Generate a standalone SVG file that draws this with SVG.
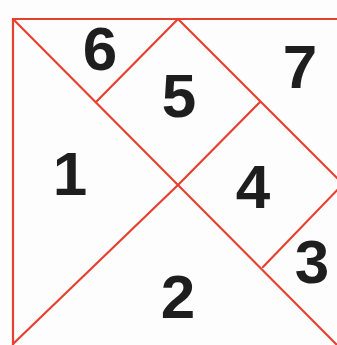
<svg xmlns="http://www.w3.org/2000/svg" width="337" height="345" viewBox="0 0 337 345">
<style>
.ln{stroke:#e8402e;stroke-width:2.2;fill:none;stroke-linecap:round}
.lb{font-family:"Liberation Sans",Arial,sans-serif;font-weight:bold;font-size:62px;fill:#1e1e1e;text-anchor:middle}
</style>
<rect width="337" height="345" fill="#fdfdfd"/>
<g id="connectors">
<line class="ln" x1="13" y1="19" x2="345" y2="19"/>
<line class="ln" x1="13" y1="19" x2="13" y2="345"/>
<line class="ln" x1="13" y1="19" x2="345" y2="353"/>
<line class="ln" x1="13" y1="344" x2="178" y2="185"/>
<line class="ln" x1="96" y1="102" x2="178" y2="19"/>
<line class="ln" x1="178" y1="19" x2="343" y2="184"/>
<line class="ln" x1="260" y1="102" x2="178" y2="185"/>
<line class="ln" x1="263" y1="267" x2="343" y2="184"/>
</g>
<g id="piece1"><text class="lb" x="70" y="195">1</text></g>
<g id="piece2"><text class="lb" x="178" y="318">2</text></g>
<g id="piece3"><text class="lb" x="312" y="283">3</text></g>
<g id="piece4"><text class="lb" x="253" y="208">4</text></g>
<g id="piece5"><text class="lb" x="179" y="117">5</text></g>
<g id="piece6"><text class="lb" x="100" y="70">6</text></g>
<g id="piece7"><text class="lb" x="300" y="88">7</text></g>
</svg>
